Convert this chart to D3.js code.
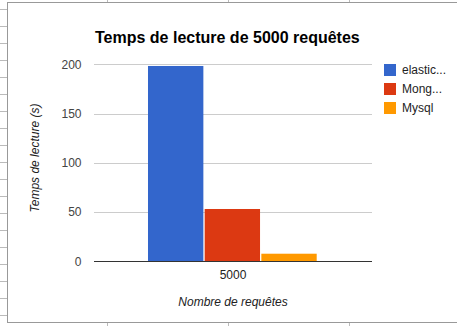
<!DOCTYPE html>
<html lang="fr">
<head>
  <meta charset="utf-8">
  <title>Temps de lecture</title>
  <script src="https://d3js.org/d3.v7.min.js"></script>
  <style>
    body { margin: 0; background: #fff; }
    svg { display: block; font-family: Arial, "Liberation Sans", sans-serif; }
  </style>
</head>
<body>
	<script type="text/javascript">

		// Data
		var categories = ["5000"];
		var series = ["elastic...", "Mong...", "Mysql"];
		var values = [198.3, 53.1, 7.7];
		var colors = ["#3366cc", "#dc3912", "#ff9900"];
		var yTicks = [0, 50, 100, 150, 200];

		var svg_width = 457;
		var svg_height = 326;

		var svg = d3.select("body")
					.append("svg")
					.attr("width", svg_width)
					.attr("height", svg_height);

		// spreadsheet frame around the chart
		var frame = svg.append("g");
		frame.append("rect")
			.attr("x", 7.5).attr("y", 2.5)
			.attr("width", 460).attr("height", 320)
			.attr("fill", "#fff")
			.attr("stroke", "#999");
		d3.range(9, 320, 17).forEach(function(y) {
			frame.append("line")
				.attr("x1", 0).attr("x2", 7)
				.attr("y1", y + 0.5).attr("y2", y + 0.5)
				.attr("stroke", "#bbb");
		});
		[107, 228, 349].forEach(function(x) {
			frame.append("line").attr("x1", x + 0.5).attr("x2", x + 0.5)
				.attr("y1", 0).attr("y2", 2).attr("stroke", "#bbb");
			frame.append("line").attr("x1", x + 0.5).attr("x2", x + 0.5)
				.attr("y1", 323).attr("y2", 326).attr("stroke", "#bbb");
		});

		var plot = { left: 94, right: 372, top: 64.3, bottom: 261.3 };

		var yScale = d3.scaleLinear()
						.domain([0, 200])
						.range([plot.bottom, plot.top]);

		var xScale = d3.scaleBand()
						.domain(categories)
						.range([plot.left, plot.right])
						.paddingInner(0)
						.paddingOuter(0.3176);

		var xInner = d3.scaleBand()
						.domain(series)
						.range([0, xScale.bandwidth()]);

		// gridlines
		svg.append("g")
			.selectAll("line")
			.data(yTicks.filter(function(d) { return d !== 0; }))
			.enter()
			.append("line")
			.attr("x1", plot.left).attr("x2", plot.right)
			.attr("y1", function(d) { return Math.round(yScale(d)) + 0.5; })
			.attr("y2", function(d) { return Math.round(yScale(d)) + 0.5; })
			.attr("stroke", "#cccccc");

		// y tick labels
		svg.append("g")
			.selectAll("text")
			.data(yTicks)
			.enter()
			.append("text")
			.text(function(d) { return d; })
			.attr("x", 81.5)
			.attr("y", function(d) { return yScale(d); })
			.attr("dy", "0.35em")
			.attr("text-anchor", "end")
			.attr("font-size", "12px")
			.attr("fill", "#444");

		// bars
		svg.append("g")
			.selectAll("rect")
			.data(values)
			.enter()
			.append("rect")
			.attr("x", function(d, i) { return xScale(categories[0]) + xInner(series[i]); })
			.attr("y", function(d) { return yScale(d); })
			.attr("width", xInner.bandwidth() - 1.3)
			.attr("height", function(d) { return plot.bottom - yScale(d); })
			.attr("fill", function(d, i) { return colors[i]; });

		// baseline
		svg.append("line")
			.attr("x1", plot.left).attr("x2", plot.right)
			.attr("y1", Math.round(yScale(0)) + 0.5).attr("y2", Math.round(yScale(0)) + 0.5)
			.attr("stroke", "#333");

		// x tick labels
		svg.append("g")
			.selectAll("text")
			.data(categories)
			.enter()
			.append("text")
			.text(function(d) { return d; })
			.attr("x", function(d) { return xScale(d) + xScale.bandwidth() / 2; })
			.attr("y", 279)
			.attr("text-anchor", "middle")
			.attr("font-size", "12px")
			.attr("fill", "#222");

		// title
		svg.append("text")
			.text("Temps de lecture de 5000 requêtes")
			.attr("x", 95)
			.attr("y", 43)
			.attr("font-size", "16px")
			.attr("font-weight", "bold")
			.attr("fill", "#000");

		// axis titles
		svg.append("text")
			.text("Nombre de requêtes")
			.attr("x", 233)
			.attr("y", 306)
			.attr("text-anchor", "middle")
			.attr("font-size", "12px")
			.attr("font-style", "italic")
			.attr("fill", "#222");

		svg.append("text")
			.text("Temps de lecture (s)")
			.attr("transform", "translate(39,158) rotate(-90)")
			.attr("text-anchor", "middle")
			.attr("font-size", "12px")
			.attr("font-style", "italic")
			.attr("fill", "#222");

		// legend
		var legend = svg.append("g")
			.selectAll("g")
			.data(series)
			.enter()
			.append("g")
			.attr("transform", function(d, i) { return "translate(384," + (64 + i * 19) + ")"; });

		legend.append("rect")
			.attr("width", 12).attr("height", 12)
			.attr("fill", function(d, i) { return colors[i]; });

		legend.append("text")
			.text(function(d) { return d; })
			.attr("x", 18)
			.attr("y", 6)
			.attr("dy", "0.35em")
			.attr("font-size", "12px")
			.attr("fill", "#222");

	</script>
</body>
</html>
